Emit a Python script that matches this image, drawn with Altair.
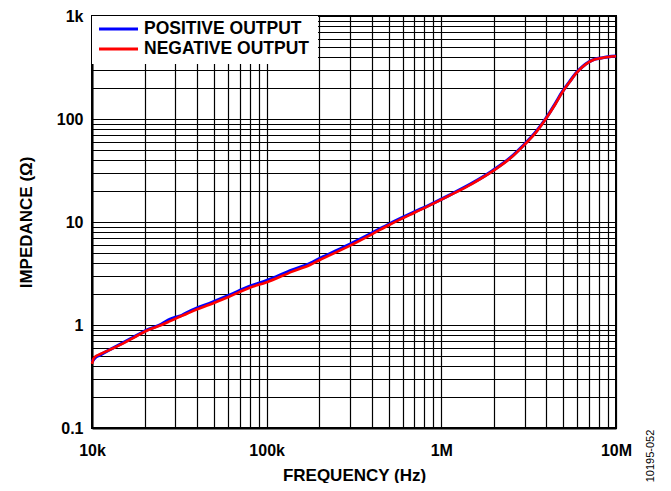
import altair as alt
import pandas as pd

# ---- data ----
freq_hz = [10000, 10200, 10400, 11100, 12500, 15000, 17500, 20500, 25000, 28000,
           30000, 32000, 34700, 40000, 47000, 60000, 80000, 100000, 140000, 178000,
           200000, 300000, 400000, 505000, 700000, 853000, 1110000, 1500000, 1960000,
           2500000, 2920000, 3500000, 3960000, 4500000, 4930000, 5400000, 5890000,
           6400000, 7000000, 7600000, 8360000, 9000000, 10000000]

positive_ohm = [0.44, 0.46, 0.48, 0.51, 0.57, 0.67, 0.77, 0.89, 1.02, 1.14,
                1.19, 1.22, 1.31, 1.46, 1.62, 1.92, 2.38, 2.70, 3.42, 3.98,
                4.40, 6.10, 7.80, 9.60, 12.5, 14.6, 18.2, 23.8, 31.4,
                42.5, 54.6, 76.0, 101, 142, 184, 228, 278,
                320, 358, 382, 393, 401, 407]

negative_ohm = [0.42, 0.47, 0.49, 0.52, 0.57, 0.66, 0.76, 0.88, 1.00, 1.09,
                1.15, 1.21, 1.28, 1.42, 1.57, 1.86, 2.30, 2.60, 3.30, 3.85,
                4.25, 5.90, 7.60, 9.40, 12.3, 14.4, 18.0, 23.5, 31.0,
                42.0, 54.0, 75.0, 100, 140, 182, 226, 276,
                318, 356, 380, 392, 400, 406]

series_names = ["POSITIVE OUTPUT", "NEGATIVE OUTPUT"]
series_colors = ["#0000FF", "#FF0000"]

x_label_values = [10000, 100000, 1000000, 10000000]
x_label_texts = ["10k", "100k", "1M", "10M"]
y_label_values = [0.1, 1, 10, 100, 1000]
y_label_texts = ["0.1", "1", "10", "100", "1k"]

figure_id = ["10195-052"]

# ---- build tables ----
df = pd.concat([
    pd.DataFrame({"freq": freq_hz, "imp": positive_ohm, "series": series_names[0]}),
    pd.DataFrame({"freq": freq_hz, "imp": negative_ohm, "series": series_names[1]}),
])

x_grid = [k * 10 ** e for e in range(4, 7) for k in range(1, 10)] + [10 ** 7]
y_grid = [round(k * 10.0 ** e, 10) for e in range(-1, 3) for k in range(1, 10)] + [1000.0]


def label_expr(values, texts):
    expr = "''"
    for v, t in reversed(list(zip(values, texts))):
        expr = f"datum.value == {v} ? '{t}' : ({expr})"
    return expr


FONT = "Liberation Sans"
W, H = 524, 412
TOP = 8

x_enc = alt.X("freq:Q",
              scale=alt.Scale(type="log", domain=[1e4, 1e7], nice=False),
              axis=alt.Axis(values=x_grid, labelExpr=label_expr(x_label_values, x_label_texts),
                            title="FREQUENCY (Hz)", grid=True, ticks=False, tickSize=0,
                            labelPadding=14, labelFlush=False, labelOverlap=False,
                            titleY=47, titleBaseline="middle"))
y_enc = alt.Y("imp:Q",
              scale=alt.Scale(type="log", domain=[0.1, 1000], nice=False),
              axis=alt.Axis(values=y_grid, labelExpr=label_expr(y_label_values, y_label_texts),
                            title="IMPEDANCE (Ω)", grid=True, ticks=False, tickSize=0,
                            labelPadding=9, labelFlush=False, labelOverlap=False,
                            titleX=-66, titleBaseline="middle"))
color_enc = alt.Color("series:N", scale=alt.Scale(domain=series_names, range=series_colors),
                      legend=None)

base = alt.Chart(df)
blue = base.transform_filter(alt.datum.series == series_names[0]).mark_line(
    strokeWidth=3.2, interpolate="monotone").encode(x=x_enc, y=y_enc, color=color_enc)
red = base.transform_filter(alt.datum.series == series_names[1]).mark_line(
    strokeWidth=2.6, interpolate="monotone").encode(x=x_enc, y=y_enc, color=color_enc)

# manual legend
legend_bg = alt.Chart(pd.DataFrame({"a": [0]})).mark_rect(fill="white").encode(
    x=alt.value(0), x2=alt.value(226), y=alt.value(0), y2=alt.value(48))
legend_layers = [legend_bg]
for i, (name, col) in enumerate(zip(series_names, series_colors)):
    yy = 13 + 20 * i
    d = pd.DataFrame({"label": [name]})
    legend_layers.append(alt.Chart(d).mark_rule(color=col, strokeWidth=3).encode(
        x=alt.value(7), x2=alt.value(46), y=alt.value(yy)))
    legend_layers.append(alt.Chart(d).mark_text(
        align="left", baseline="middle", font=FONT, fontSize=17.5, fontWeight="bold",
        color="black").encode(x=alt.value(52), y=alt.value(yy), text="label:N"))

fig_text = alt.Chart(pd.DataFrame({"t": figure_id})).mark_text(
    angle=270, align="center", baseline="middle", font=FONT, fontSize=11,
    color="black").encode(x=alt.value(559), y=alt.value(456 - 8 - TOP), text="t:N")

chart = alt.layer(blue, red, *legend_layers, fig_text).properties(
    width=W, height=H,
    background="white",
    autosize=alt.AutoSizeParams(type="none"),
    padding={"left": 84, "top": TOP, "right": 47, "bottom": 55},
).configure_view(stroke="black", strokeWidth=2).configure_axis(
    gridColor="black", gridOpacity=1, gridWidth=1.2,
    domainColor="black", domainWidth=2,
    labelFont=FONT, labelFontSize=16, labelFontWeight="bold", labelColor="black",
    titleFont=FONT, titleFontSize=17, titleFontWeight="bold", titleColor="black",
)

chart.save("out.html", embed_options={"renderer": "svg", "actions": False})
